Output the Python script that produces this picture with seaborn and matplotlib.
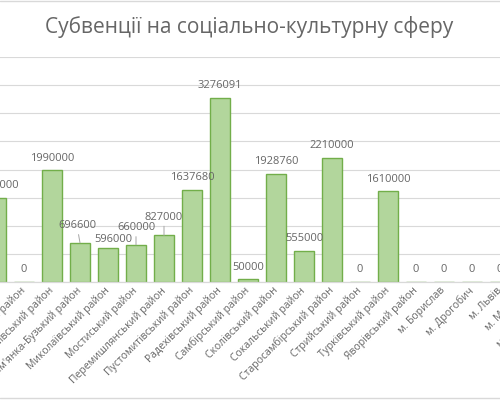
import matplotlib
matplotlib.use("Agg")
import matplotlib.pyplot as plt
import matplotlib.lines as mlines
import seaborn as sns

sns.set_theme(style="white")
plt.rcParams["font.family"] = ["Open Sans", "DejaVu Sans"]

# дані (видима частина діаграми)
districts = [
    "Жидачівський район", "Жовківський район", "Золочівський район",
    "Кам'янка-Бузький район", "Миколаївський район", "Мостиський район",
    "Перемишлянський район", "Пустомитівський район", "Радехівський район",
    "Самбірський район", "Сколівський район", "Сокальський район",
    "Старосамбірський район", "Стрийський район", "Турківський район",
    "Яворівський район", "м. Борислав", "м. Дрогобич", "м. Львів",
    "м. Моршин", "м. Новий Розділ",
]
amounts = [
    1500000, 0, 1990000, 696600, 596000, 660000, 827000, 1637680,
    3276091, 50000, 1928760, 555000, 2210000, 0, 1610000, 0, 0, 0, 0, 0, 0,
]
title = "Субвенції на соціально-культурну сферу"

# зсуви підписів, які в оригіналі пересунуті вручну (пікселі)
moved = {3: (-3, 17), 4: (5, 9), 5: (0, 17), 6: (0, 18)}
leaders = {3, 5, 6}

fig = plt.figure(figsize=(5, 4), dpi=100)
ax = fig.add_axes([-0.036, 0.295, 1.176, 0.5625])

sns.barplot(x=districts, y=amounts, color="#b2d69c", saturation=1,
            edgecolor="#72ae4a", linewidth=1.0, width=0.7, ax=ax)

ax.set_ylim(0, 4000000)
ax.set_xlim(-0.5, len(districts) - 0.5)
ax.set_yticks(range(0, 4000001, 500000))
ax.yaxis.grid(True, color="#d9d9d9", lw=0.8)
ax.set_axisbelow(True)
for s in ["top", "right", "left"]:
    ax.spines[s].set_visible(False)
ax.spines["bottom"].set_color("#d9d9d9")
ax.spines["bottom"].set_linewidth(0.9)
ax.tick_params(axis="y", left=False, labelleft=False)
ax.tick_params(axis="x", length=0, pad=5)
ax.set_xlabel("")
ax.set_ylabel("")
ax.set_xticks(range(len(districts)))
ax.set_xticklabels(districts, rotation=45, ha="right", va="center",
                   rotation_mode="anchor", fontsize=7.5, color="#666666")

# підписи даних
for i, v in enumerate(amounts):
    dx, dy = moved.get(i, (0, 12))
    props = None
    if i in leaders:
        props = dict(arrowstyle="-", color="#a6a6a6", lw=0.7,
                     shrinkA=0, shrinkB=0)
    ax.annotate(str(v), xy=(i, v), xytext=(dx, dy), textcoords="offset pixels",
                ha="center", va="center", fontsize=8, color="#666666",
                arrowprops=props)

fig.text(0.498, 1 - 27 / 400, title, ha="center", va="center",
         fontsize=15, color="#666666")

# рамка області діаграми
for y in (0.998, 0.004):
    fig.add_artist(mlines.Line2D([0, 1], [y, y], color="#d9d9d9", lw=1))

plt.savefig("out.png", dpi=100)
